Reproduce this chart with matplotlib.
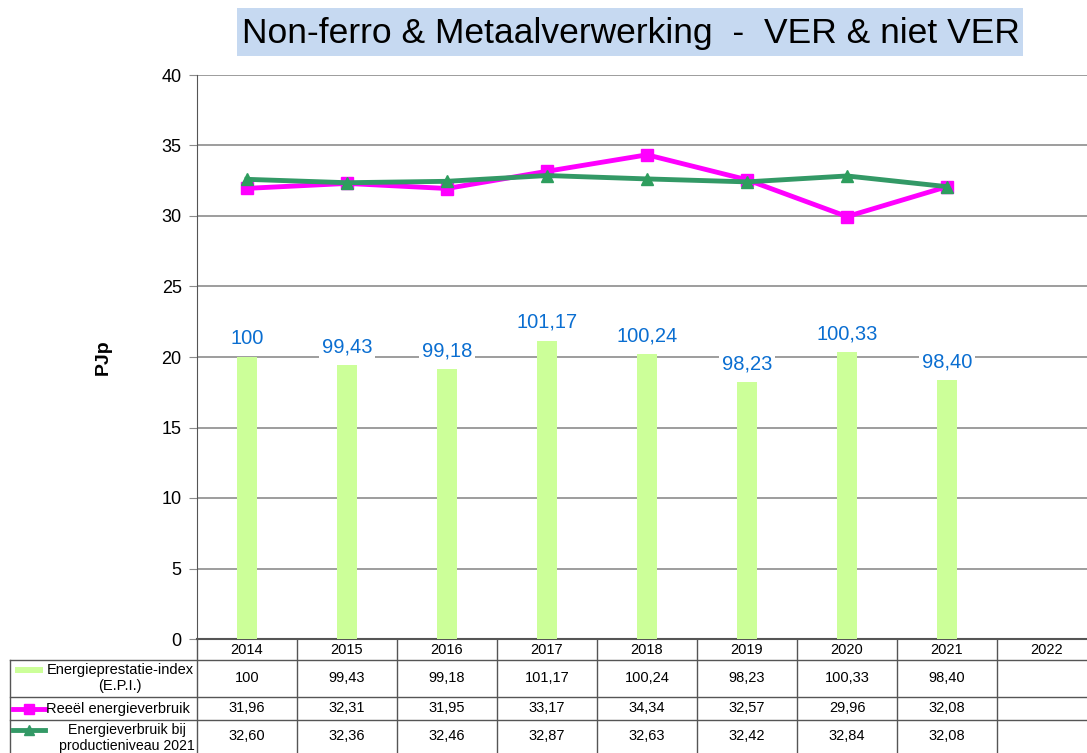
import numpy as np
import matplotlib
matplotlib.use("Agg")
import matplotlib.pyplot as plt
from matplotlib.lines import Line2D
from matplotlib.patches import Rectangle

plt.rcParams['font.family'] = ['Liberation Sans', 'DejaVu Sans']

years = ['2014', '2015', '2016', '2017', '2018', '2019', '2020', '2021', '2022']
epi = [100, 99.43, 99.18, 101.17, 100.24, 98.23, 100.33, 98.40]
reeel = [31.96, 32.31, 31.95, 33.17, 34.34, 32.57, 29.96, 32.08]
prodniveau = [32.60, 32.36, 32.46, 32.87, 32.63, 32.42, 32.84, 32.08]

title = 'Non-ferro & Metaalverwerking  -  VER & niet VER'
row_labels = ['Energieprestatie-index\n(E.P.I.)', 'Reeël energieverbruik',
              'Energieverbruik bij\nproductieniveau 2021']

BAR_COL = '#CCFF99'
MAG = '#FF00FF'
GRN = '#339966'
LBL_BLUE = '#0A6ED1'
GRID = '#8C8C8C'

W, H = 1087, 753


def fx(x):
    return x / W


def fy(y):
    return 1 - y / H


def fmt(v):
    if float(v).is_integer():
        return str(int(v))
    return f'{v:.2f}'.replace('.', ',')


fig = plt.figure(figsize=(W / 100, H / 100), dpi=100)

# plot area: 9 categories, 100 px each, starting at x=197
left, right, top, bottom = 197, 1097, 75, 639
ax = fig.add_axes([fx(left), fy(bottom), (right - left) / W, (bottom - top) / H])
ax2 = ax.twinx()
ax2.patch.set_visible(False)

x = np.arange(len(years))
n = len(epi)

# EPI bars on a hidden 80..120 scale, drawn above the grid
ax2.bar(x[:n], epi, width=0.2, color=BAR_COL, zorder=2)
ax2.set_ylim(80, 120)
ax2.set_xlim(-0.5, len(years) - 0.5)
ax2.axis('off')
for xi, v in zip(x[:n], epi):
    ax2.annotate(fmt(v), (xi, v), xytext=(0, 13), textcoords='offset points',
                 ha='center', va='center', fontsize=14.5, color=LBL_BLUE,
                 bbox=dict(boxstyle='square,pad=0.15', fc='white', ec='none'),
                 zorder=5)

ax.plot(x[:n], reeel, color=MAG, lw=3.5, marker='s', ms=9, zorder=4)
ax.plot(x[:n], prodniveau, color=GRN, lw=3.5, marker='^', ms=9,
        markerfacecolor='#2E9E5E', markeredgecolor='#2E9E5E', zorder=4)

ax.set_xlim(-0.5, len(years) - 0.5)
ax.set_ylim(0, 40)
ax.set_yticks(range(0, 41, 5))
ax.tick_params(axis='y', labelsize=13, length=6, color=GRID, pad=5)
ax.set_xticks([])
ax.grid(axis='y', color=GRID, lw=1.2)
for s in ['top', 'right']:
    ax.spines[s].set_visible(False)
ax.spines['left'].set_color('#555555')
ax.spines['bottom'].set_color('#555555')
ax.spines['bottom'].set_linewidth(1.5)
ax.set_ylabel('PJp', fontsize=14, fontweight='bold', labelpad=36)

# title box
fig.patches.append(Rectangle((fx(237), fy(56)), fx(1023) - fx(237), fy(8) - fy(56),
                             transform=fig.transFigure, fc='#C6D9F1', ec='none'))
fig.text(fx(631), fy(33), title, ha='center', va='center', fontsize=25.5,
         family=['Liberation Sans Narrow', 'Liberation Sans'])

# data table below the plot
row_y = [639, 660, 697, 720, 760]
line_kw = dict(color='#555555', lw=1, transform=fig.transFigure)
for y in row_y[1:4]:
    fig.lines.append(Line2D([fx(10), fx(W)], [fy(y), fy(y)], **line_kw))
fig.lines.append(Line2D([fx(10), fx(10)], [fy(660), fy(760)], **line_kw))
for k in range(len(years) + 1):
    xv = left + 100 * k
    fig.lines.append(Line2D([fx(xv), fx(xv)], [fy(639), fy(760)], **line_kw))

for k, yr in enumerate(years):
    fig.text(fx(left + 50 + 100 * k), fy(650), yr, ha='center', va='center', fontsize=10.5)

rows = [epi, reeel, prodniveau]
for r, vals in enumerate(rows):
    yc = (row_y[r + 1] + row_y[r + 2]) / 2
    if r == 2:
        yc = 736
    for k, v in enumerate(vals):
        txt = fmt(v) if r == 0 else f'{v:.2f}'.replace('.', ',')
        fig.text(fx(left + 50 + 100 * k), fy(yc), txt, ha='center', va='center', fontsize=10.5)

# row headers with legend keys
fig.patches.append(Rectangle((fx(15), fy(673)), fx(43) - fx(15), fy(667) - fy(673),
                             transform=fig.transFigure, fc=BAR_COL, ec='none'))
fig.text(fx(120), fy(678), row_labels[0], ha='center', va='center', fontsize=10.5,
         linespacing=1.2)
fig.lines.append(Line2D([fx(13), fx(29), fx(45)], [fy(709)] * 3, color=MAG, lw=3.5,
                        marker='s', ms=7, markevery=[1], transform=fig.transFigure))
fig.text(fx(46), fy(709), row_labels[1], ha='left', va='center', fontsize=10.5)
fig.lines.append(Line2D([fx(13), fx(29), fx(45)], [fy(730)] * 3, color=GRN, lw=3.5,
                        marker='^', ms=7, markevery=[1], transform=fig.transFigure))
fig.text(fx(127), fy(738), row_labels[2], ha='center', va='center', fontsize=10.2,
         linespacing=1.2)

fig.savefig('out.png', dpi=100)
